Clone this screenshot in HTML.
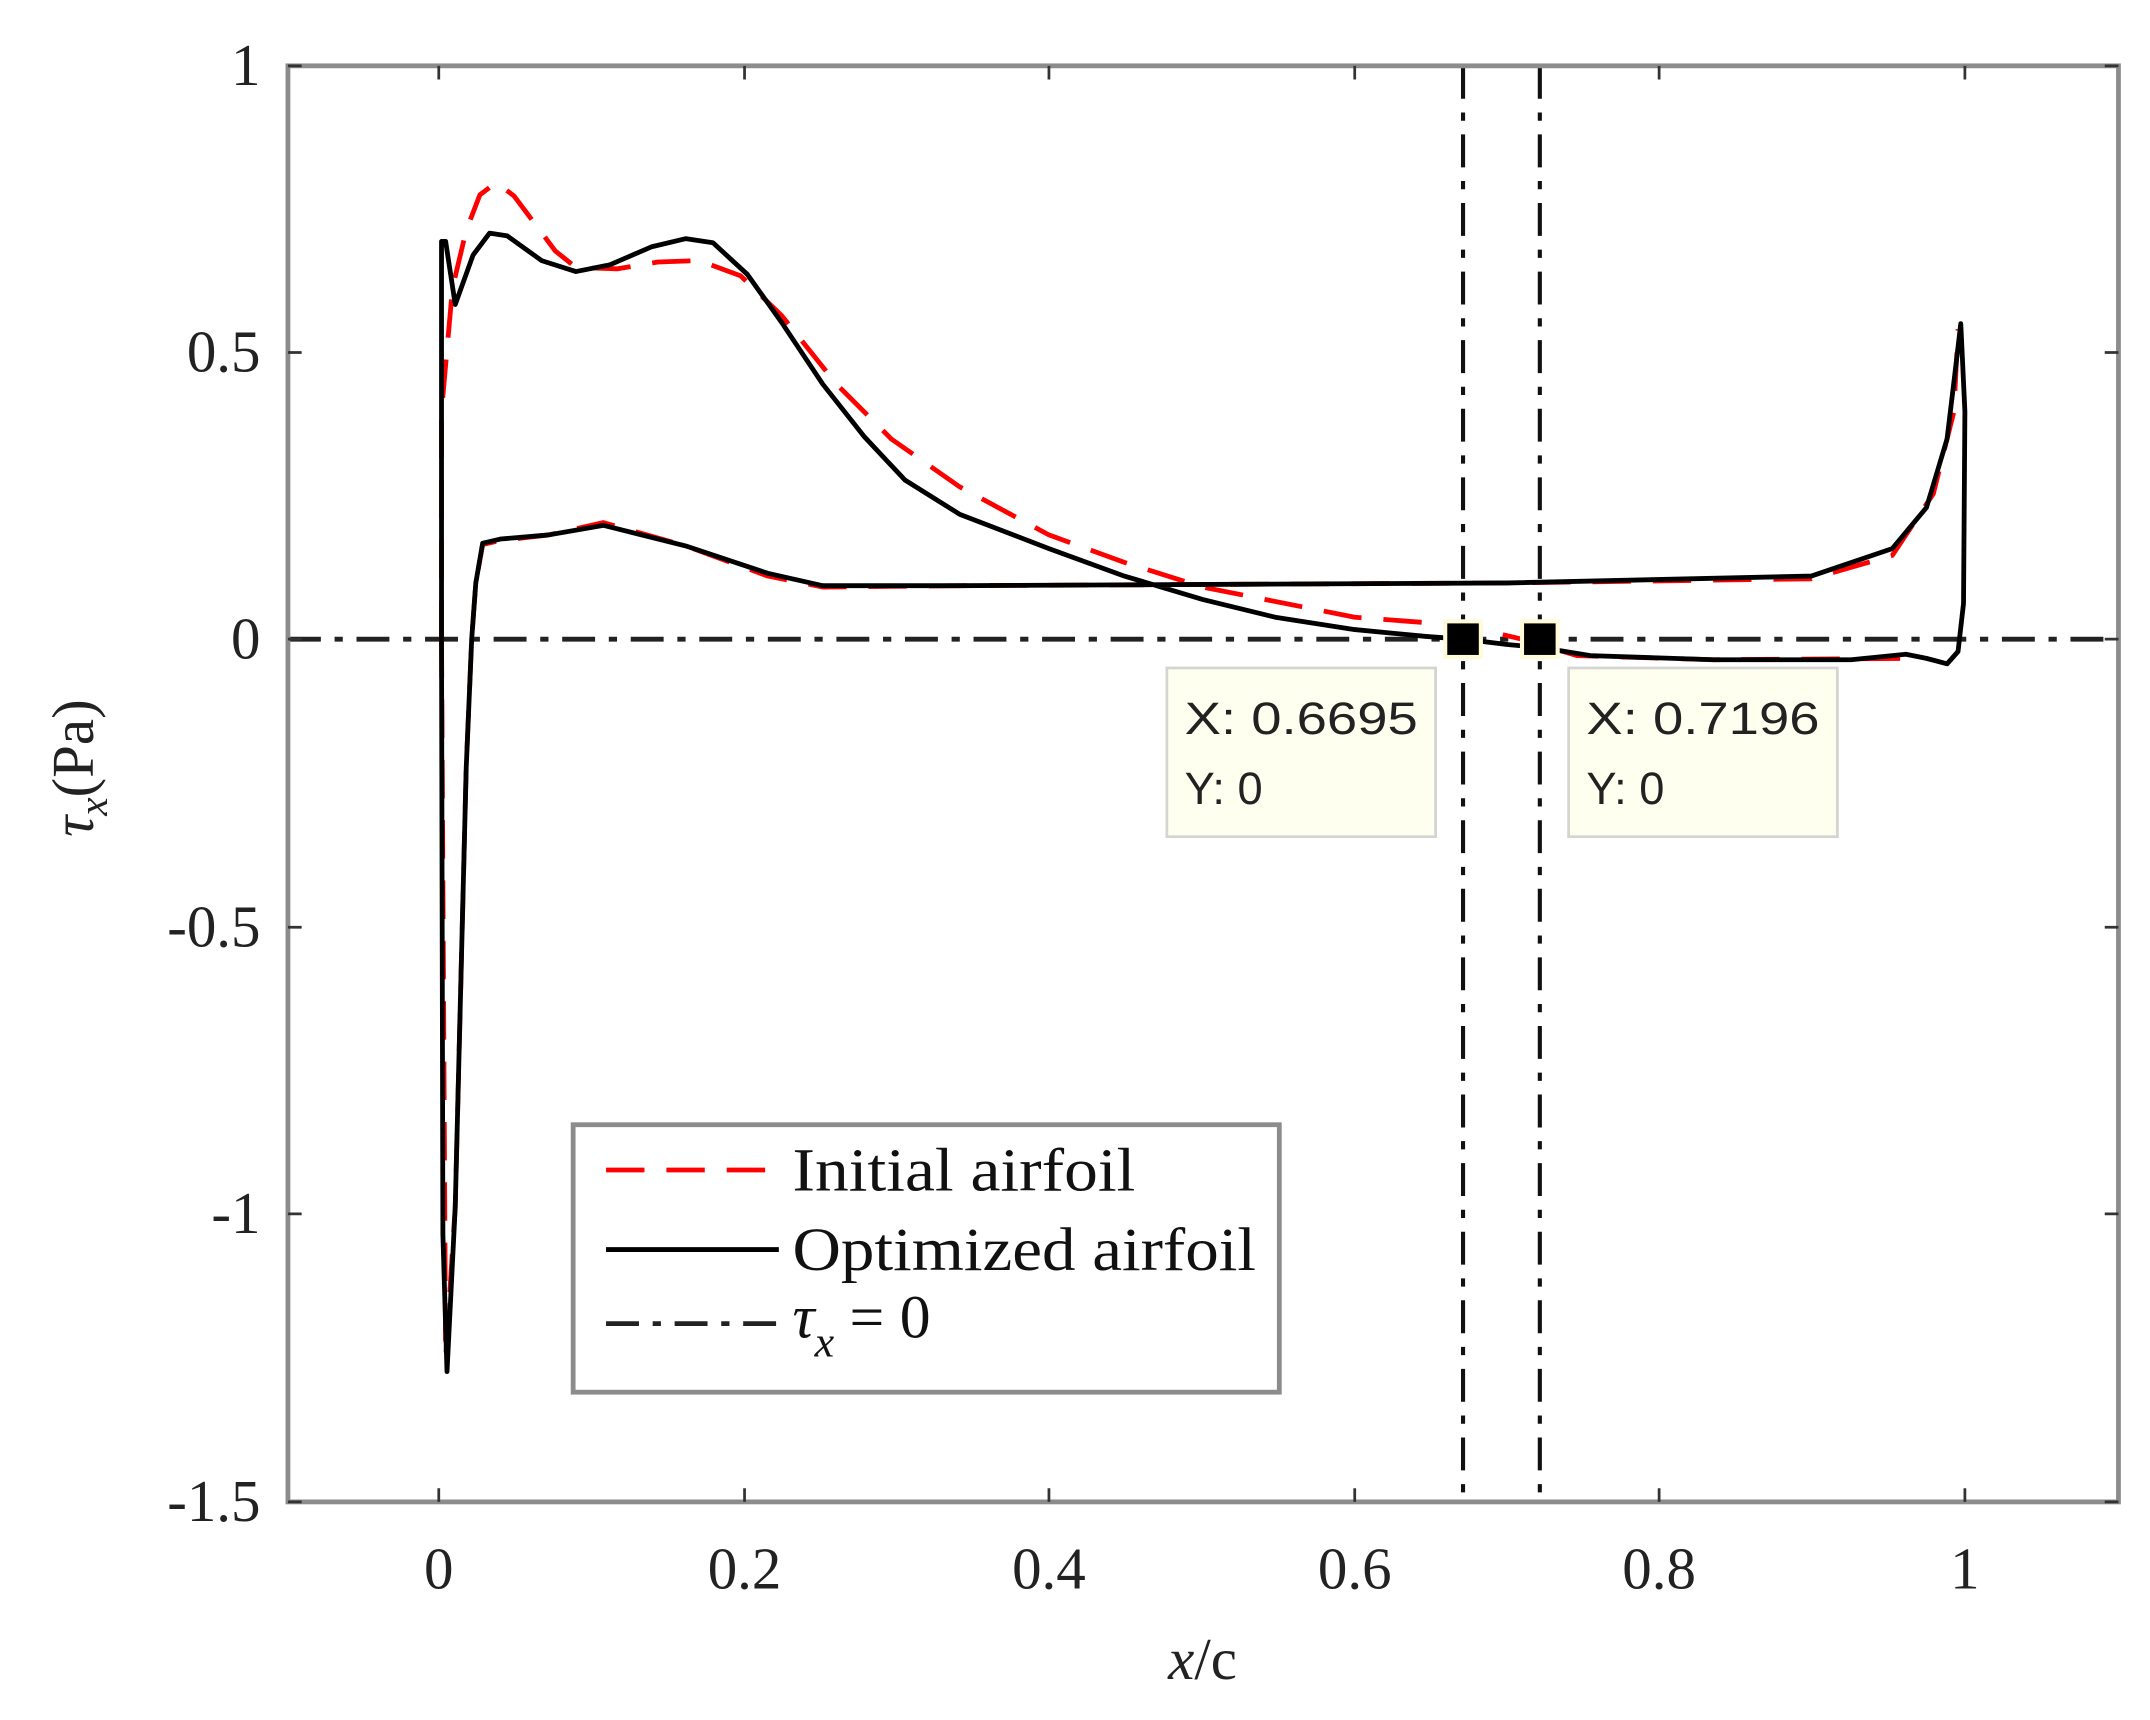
<!DOCTYPE html>
<html><head><meta charset="utf-8"><style>html,body{margin:0;padding:0;background:#fff}svg{display:block}</style></head>
<body>
<svg width="2150" height="1720" viewBox="0 0 1568 1254" preserveAspectRatio="none" xmlns="http://www.w3.org/2000/svg">
<rect width="1568" height="1254" fill="#fff"/>
<g fill="none" stroke-linejoin="round" stroke-linecap="butt">
<line x1="210" y1="466" x2="1545" y2="466" stroke="#222" stroke-width="3.5" stroke-dasharray="24,10,6,10"/>
<line x1="1067" y1="48" x2="1067" y2="1095" stroke="#111" stroke-width="3" stroke-dasharray="24,10,6,10"/>
<line x1="1123" y1="48" x2="1123" y2="1095" stroke="#111" stroke-width="3" stroke-dasharray="24,10,6,10"/>
<path stroke="#ff0000" stroke-width="3.5" stroke-dasharray="28,16" d="M322,466 L322,300 L330,210 L340,168 L350,142 L362,133 L375,143 L390,163 L405,183 L420,195 L450,196 L480,191 L510,190 L540,201 L570,230 L610,280 L650,320 L700,355 L765,390 L820,410 L877,428 L988,450 L1067,456 L1110,466 L1150,478 L1250,481 L1400,480"/>
<path stroke="#ff0000" stroke-width="3.5" stroke-dasharray="28,16" d="M322,466 L325,990 L332,880 L340,560 L344,466 L347,425 L352,397 L365,394 L400,390 L440,381 L500,398 L560,420 L600,428 L700,427 L900,426 L1100,425 L1321,422 L1380,405 L1410,360 L1425,300 L1428,240"/>
<path stroke="#000" stroke-width="3.5" d="M322,466 L322,176 L325,176 L332,222 L345,186 L357,170 L370,172 L395,190 L420,198 L445,193 L475,180 L500,174 L520,177 L545,200 L570,235 L600,280 L630,318 L660,350 L700,375 L765,400 L820,420 L877,437 L930,450 L988,459 L1040,464 L1067,466 L1100,470 L1123,472 L1160,478 L1250,481 L1350,481 L1390,477 L1405,480 L1420,484 L1428,475 L1432,440 L1433,300 L1430,236 L1426,270 L1420,320 L1405,370 L1380,400 L1321,420 L1100,425 L900,426 L700,427 L600,427 L560,418 L500,398 L440,383 L400,390 L365,393 L352,396 L347,425 L344,466 L340,560 L332,880 L326,1000 L323,900 L322,466"/>
</g>
<rect x="1054" y="453" width="26" height="26" fill="#000" stroke="#fffbd8" stroke-width="3"/>
<rect x="1110" y="453" width="26" height="26" fill="#000" stroke="#fffbd8" stroke-width="3"/>
<rect x="851" y="487" width="196" height="123" fill="#fffff0" stroke="#d4d4d0" stroke-width="2"/>
<rect x="1144" y="487" width="196" height="123" fill="#fffff0" stroke="#d4d4d0" stroke-width="2"/>
<g font-family="Liberation Sans, sans-serif" font-size="33" fill="#222">
<text x="864" y="535" textLength="170" lengthAdjust="spacingAndGlyphs">X: 0.6695</text><text x="864" y="586">Y: 0</text>
<text x="1157" y="535" textLength="170" lengthAdjust="spacingAndGlyphs">X: 0.7196</text><text x="1157" y="586">Y: 0</text>
</g>
<rect x="210" y="48" width="1335" height="1047" fill="none" stroke="#8c8c8c" stroke-width="3.5"/>
<g stroke="#333" stroke-width="2">
<path d="M320,1095v-10M543,1095v-10M765,1095v-10M988,1095v-10M1210,1095v-10M1433,1095v-10M320,48v10M543,48v10M765,48v10M988,48v10M1210,48v10M1433,48v10"/>
<path d="M210,48h10M210,257h10M210,466h10M210,676h10M210,885h10M210,1095h10M1545,48h-10M1545,257h-10M1545,466h-10M1545,676h-10M1545,885h-10M1545,1095h-10"/>
</g>
<g font-family="Liberation Serif, serif" font-size="43" fill="#222">
<g text-anchor="end">
<text x="190" y="62">1</text><text x="190" y="271">0.5</text><text x="190" y="480">0</text>
<text x="190" y="690">-0.5</text><text x="190" y="899">-1</text><text x="190" y="1109">-1.5</text>
</g>
<g text-anchor="middle">
<text x="320" y="1158">0</text><text x="543" y="1158">0.2</text><text x="765" y="1158">0.4</text>
<text x="988" y="1158">0.6</text><text x="1210" y="1158">0.8</text><text x="1433" y="1158">1</text>
<text x="877" y="1224"><tspan font-style="italic">x</tspan>/c</text>
</g>
<text transform="translate(68,560) rotate(-90)" text-anchor="middle"><tspan font-style="italic">τ</tspan><tspan font-style="italic" font-size="30" dy="10">x</tspan><tspan dy="-10">(Pa)</tspan></text>
</g>
<rect x="418" y="820" width="515" height="195" fill="#fff" stroke="#8c8c8c" stroke-width="3.5"/>
<line x1="442" y1="853" x2="568" y2="853" stroke="#ff0000" stroke-width="3.5" stroke-dasharray="28,16"/>
<line x1="442" y1="911" x2="568" y2="911" stroke="#000" stroke-width="3.5"/>
<line x1="442" y1="965" x2="566" y2="965" stroke="#222" stroke-width="3.5" stroke-dasharray="24,10,6,10"/>
<g font-family="Liberation Serif, serif" font-size="45" fill="#111">
<text x="578" y="868" textLength="250" lengthAdjust="spacingAndGlyphs">Initial airfoil</text>
<text x="578" y="926" textLength="338" lengthAdjust="spacingAndGlyphs">Optimized airfoil</text>
<text x="578" y="975"><tspan font-style="italic">τ</tspan><tspan font-style="italic" font-size="32" dy="14">x</tspan><tspan dy="-14"> = 0</tspan></text>
</g>
</svg>
</body></html>
